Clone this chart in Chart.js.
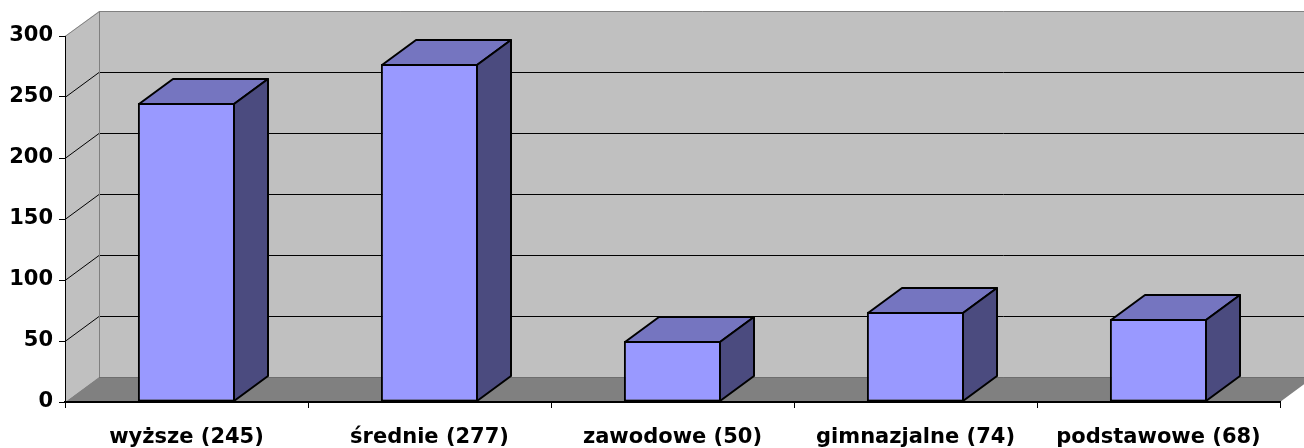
<!DOCTYPE html>
<html>
<head>
<meta charset="utf-8">
<script src="https://cdn.jsdelivr.net/npm/chart.js@4.4.1/dist/chart.umd.min.js"></script>
<style>
  html, body { margin: 0; padding: 0; background: #ffffff; }
  #wrap { width: 1304px; height: 448px; }
</style>
</head>
<body>
<div id="wrap"><canvas id="c" width="1304" height="448"></canvas></div>
<script>
const categories = ['wyższe (245)', 'średnie (277)', 'zawodowe (50)', 'gimnazjalne (74)', 'podstawowe (68)'];
const values = [245, 277, 50, 74, 68];
const yMin = 0;
const yMax = 300;
const yStep = 50;

const DX = 34, DY = -25;
const FONT = { family: '"DejaVu Sans", sans-serif', size: 21, weight: 'bold' };

const box3d = {
  id: 'box3d',
  beforeDraw(chart) {
    const { ctx, chartArea: { left, right, top, bottom }, scales: { y } } = chart;
    ctx.save();
    ctx.fillStyle = '#c0c0c0';
    ctx.fillRect(left + DX, top + DY, (right - left), (bottom - top));
    ctx.beginPath();
    ctx.moveTo(left, top); ctx.lineTo(left + DX, top + DY);
    ctx.lineTo(left + DX, bottom + DY); ctx.lineTo(left, bottom); ctx.closePath();
    ctx.fillStyle = '#c0c0c0'; ctx.fill();
    ctx.beginPath();
    ctx.moveTo(left, bottom); ctx.lineTo(left + DX, bottom + DY);
    ctx.lineTo(right + DX, bottom + DY); ctx.lineTo(right, bottom); ctx.closePath();
    ctx.fillStyle = '#808080'; ctx.fill();
    ctx.lineWidth = 1;
    ctx.strokeStyle = '#000000';
    y.ticks.forEach(t => {
      if (t.value <= yMin || t.value >= yMax) return;
      const py = Math.round(y.getPixelForValue(t.value)) + 0.5;
      ctx.beginPath();
      ctx.moveTo(left, py); ctx.lineTo(left + DX, py + DY); ctx.lineTo(right + DX, py + DY);
      ctx.stroke();
    });
    ctx.strokeStyle = '#808080';
    ctx.beginPath();
    ctx.moveTo(left, top + 0.5); ctx.lineTo(left + DX + 0.5, top + DY + 0.5);
    ctx.lineTo(right + DX, top + DY + 0.5);
    ctx.moveTo(left + DX + 0.5, top + DY); ctx.lineTo(left + DX + 0.5, bottom + DY);
    ctx.stroke();
    ctx.strokeStyle = '#6e6e6e';
    ctx.beginPath();
    ctx.moveTo(left + DX, bottom + DY + 0.5); ctx.lineTo(right + DX, bottom + DY + 0.5);
    ctx.stroke();
    ctx.restore();
  },
  afterDatasetsDraw(chart) {
    const { ctx } = chart;
    const meta = chart.getDatasetMeta(0);
    ctx.save();
    ctx.lineWidth = 2;
    ctx.strokeStyle = '#000000';
    ctx.lineJoin = 'round';
    meta.data.forEach(bar => {
      const p = bar.getProps(['x', 'y', 'base', 'width'], true);
      const x1 = Math.round(p.x - p.width / 2) + 1;
      const x2 = Math.round(p.x + p.width / 2) - 1;
      const yt = Math.round(p.y) + 1;
      const yb = Math.round(p.base) - 1;
      ctx.beginPath();
      ctx.moveTo(x1, yt); ctx.lineTo(x1 + DX, yt + DY); ctx.lineTo(x2 + DX, yt + DY); ctx.lineTo(x2, yt); ctx.closePath();
      ctx.fillStyle = '#7575c0'; ctx.fill(); ctx.stroke();
      ctx.beginPath();
      ctx.moveTo(x2, yt); ctx.lineTo(x2 + DX, yt + DY); ctx.lineTo(x2 + DX, yb + DY); ctx.lineTo(x2, yb); ctx.closePath();
      ctx.fillStyle = '#4b4b7f'; ctx.fill(); ctx.stroke();
    });
    ctx.restore();
  }
};

new Chart(document.getElementById('c'), {
  type: 'bar',
  data: {
    labels: categories,
    datasets: [{
      data: values,
      backgroundColor: '#9999ff',
      borderColor: '#000000',
      borderWidth: 2,
      borderSkipped: false,
      categoryPercentage: 1.0,
      barPercentage: 0.4
    }]
  },
  options: {
    responsive: false,
    devicePixelRatio: 1,
    animation: false,
    events: [],
    layout: { padding: { top: 36, right: 24, left: 0, bottom: 0 } },
    plugins: { legend: { display: false }, tooltip: { enabled: false }, title: { display: false } },
    scales: {
      x: {
        type: 'category',
        offset: true,
        grid: { offset: true, drawOnChartArea: false, drawTicks: true, tickLength: 6, color: '#000000', lineWidth: 1 },
        border: { display: true, color: '#000000', width: 2 },
        ticks: { color: '#000000', font: FONT, padding: 17, maxRotation: 0, autoSkip: false },
        afterFit(s) { s.height = 46; }
      },
      y: {
        min: yMin, max: yMax,
        grid: { drawOnChartArea: false, drawTicks: true, tickLength: 6, color: '#000000', lineWidth: 1 },
        border: { display: true, color: '#000000', width: 1 },
        ticks: { stepSize: yStep, color: '#000000', font: FONT, padding: 6 },
        afterFit(s) { s.width = 65; }
      }
    }
  },
  plugins: [box3d]
});
</script>
</body>
</html>
